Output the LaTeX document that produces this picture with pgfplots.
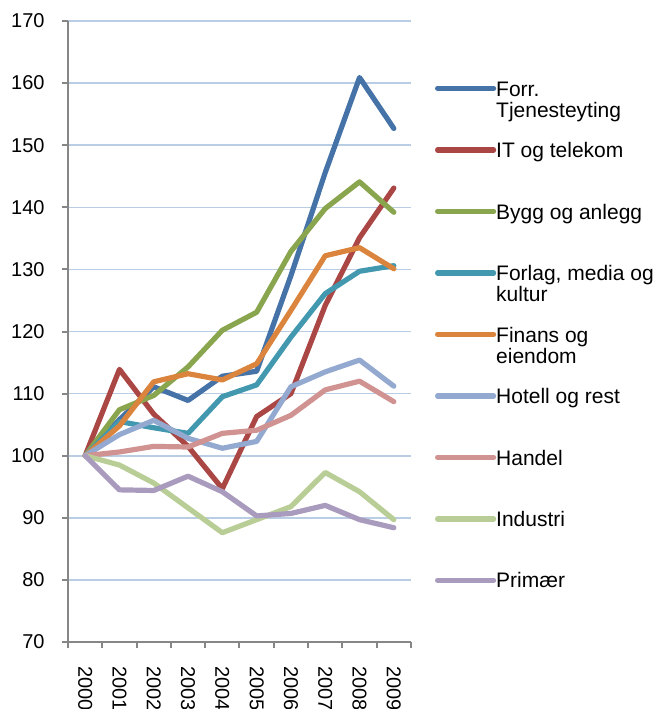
\documentclass[border=0pt]{standalone}
\usepackage{fontspec}
\setmainfont{Liberation Sans}
\usepackage{pgfplots}
\usepackage{pgfplotstable}
\pgfplotsset{compat=1.18}

\definecolor{cforr}{HTML}{4572A7}
\definecolor{cit}{HTML}{AA4643}
\definecolor{cbygg}{HTML}{89A54E}
\definecolor{cforlag}{HTML}{4198AF}
\definecolor{cfinans}{HTML}{DB843D}
\definecolor{chotell}{HTML}{93A9CF}
\definecolor{chandel}{HTML}{D19392}
\definecolor{cindustri}{HTML}{B9CD96}
\definecolor{cprimaer}{HTML}{A99BBD}
\definecolor{gridc}{HTML}{B9CDE5}
\definecolor{axc}{HTML}{868686}

% two-line legend entry, baseline on the first line
\newcommand{\lgtwo}[2]{\vtop{\baselineskip=10.5pt\lineskiplimit=-100pt
  \hbox{#1}\hbox{#2}}}

\pgfplotstableread{
year forr  it    bygg  forlag finans hotell handel industri primaer
0    100   100   100   100    100    100    100    100      100
1    105.8 113.9 107.4 105.5  104.8  103.4  100.6  98.5     94.5
2    111.1 106.7 109.7 104.5  111.9  105.7  101.5  95.6     94.4
3    108.9 101.5 114.3 103.6  113.2  102.8  101.4  91.6     96.7
4    112.8 94.7  120.2 109.5  112.2  101.2  103.6  87.6     94.2
5    113.6 106.3 123.1 111.4  114.8  102.3  104.1  89.7     90.3
6    129.0 110.0 132.9 119.1  123.4  111.1  106.5  91.8     90.7
7    145.6 124.2 139.8 126.1  132.2  113.5  110.6  97.3     92.0
8    160.9 135.1 144.1 129.7  133.5  115.4  112.0  94.2     89.7
9    152.7 143.1 139.2 130.6  130.1  111.2  108.7  89.7     88.4
}\data

\begin{document}
\begin{tikzpicture}
\begin{axis}[
    scale only axis,
    width=171.5pt, height=310.5pt,
    xmin=-0.5, xmax=9.5,
    ymin=70, ymax=170,
    ytick={70,80,...,170},
    xtick={0,...,9},
    xticklabels={2000,2001,2002,2003,2004,2005,2006,2007,2008,2009},
    minor xtick={-0.5,0.5,...,9.5},
    axis lines*=left,
    axis line style={axc, line width=1pt},
    tick align=outside,
    major tick length=3pt,
    minor tick length=3pt,
    major x tick style={draw=none},
    tick style={axc, line width=1pt},
    ymajorgrids,
    grid style={gridc, line width=0.8pt},
    /pgf/number format/assume math mode=true,
    tick label style={font=\fontsize{10}{12}\selectfont, text=black},
    yticklabel style={inner sep=0pt, xshift=-8.5pt},
    xticklabel style={rotate=-90, anchor=west, inner sep=0pt, xshift=9pt},
    every axis plot/.append style={line width=2.6pt, line join=round, line cap=round},
    legend style={at={(rel axis cs:1.07,0.905)}, anchor=north west,
        draw=none, fill=none, inner sep=0pt, outer sep=0pt,
        row sep=0pt, column sep=0pt,
        font=\fontsize{10.5}{10.5}\selectfont,
        nodes={inner sep=0pt, outer sep=0pt, anchor=base west,
               text height=8pt, text depth=22.75pt}},
    legend cell align=left,
    legend image code/.code={\draw[#1, line width=2.6pt, line cap=round] (0pt,3.8pt) -- (28pt,3.8pt);},
]
\coordinate (ax0) at (rel axis cs:0,0);
\coordinate (ax1) at (rel axis cs:1,1);
\addplot[cforr] table[x=year, y=forr] {\data};
\addlegendentry{\lgtwo{Forr.}{Tjenesteyting}}
\addplot[cit] table[x=year, y=it] {\data};
\addlegendentry{IT og telekom}
\addplot[cbygg] table[x=year, y=bygg] {\data};
\addlegendentry{Bygg og anlegg}
\addplot[cforlag] table[x=year, y=forlag] {\data};
\addlegendentry{\lgtwo{Forlag, media og}{kultur}}
\addplot[cfinans] table[x=year, y=finans] {\data};
\addlegendentry{\lgtwo{Finans og}{eiendom}}
\addplot[chotell] table[x=year, y=hotell] {\data};
\addlegendentry{Hotell og rest}
\addplot[chandel] table[x=year, y=handel] {\data};
\addlegendentry{Handel}
\addplot[cindustri] table[x=year, y=industri] {\data};
\addlegendentry{Industri}
\addplot[cprimaer] table[x=year, y=primaer] {\data};
\addlegendentry{Primær}
\end{axis}
\pgfresetboundingbox
\path ([shift={(-34pt,-33.5pt)}]ax0) rectangle ([shift={(123.5pt,10.5pt)}]ax1);
\end{tikzpicture}
\end{document}
